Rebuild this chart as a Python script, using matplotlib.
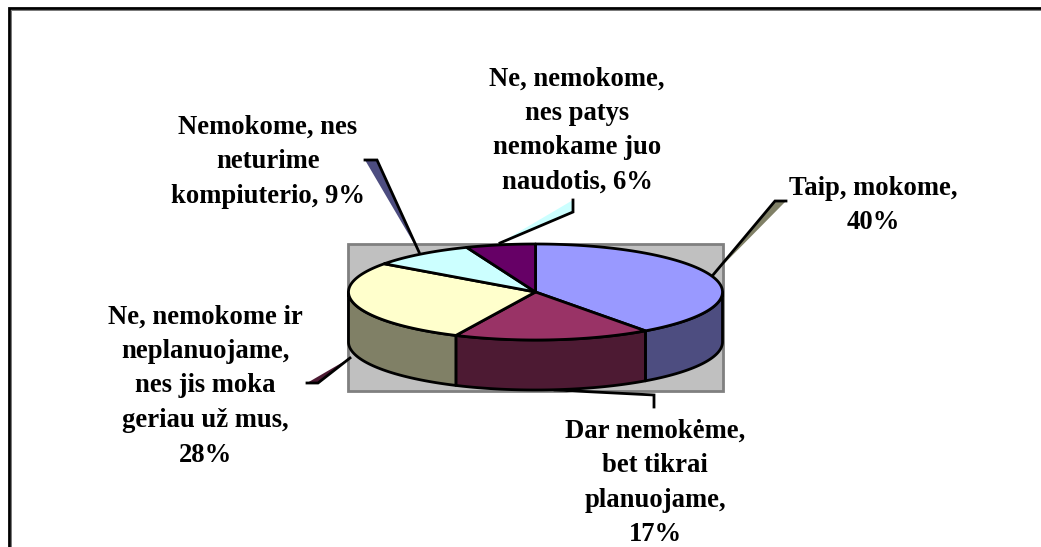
import numpy as np
import matplotlib
matplotlib.use("Agg")
import matplotlib.pyplot as plt
from matplotlib.patches import Polygon, Rectangle

labels = ["Taip, mokome,\n40%",
          "Dar nemokėme,\nbet tikrai\nplanuojame,\n17%",
          "Ne, nemokome ir\nneplanuojame,\nnes jis moka\ngeriau už mus,\n28%",
          "Nemokome, nes\nneturime\nkompiuterio, 9%",
          "Ne, nemokome,\nnes patys\nnemokame juo\nnaudotis, 6%"]
values = [40, 17, 28, 9, 6]
top_colors = ["#9999FF", "#993366", "#FFFFCC", "#CCFFFF", "#660066"]
side_colors = ["#4D4D80", "#4D1A33", "#808066", "#668080", "#330033"]
label_xy = [(873, 205.5), (655, 483), (205, 386), (268, 162), (577, 130.5)]
leaders = [
    ((775, 201), (786, 201), (713, 275)),
    ((654, 395), (654, 407), (555, 390)),
    ((307, 383), (318, 383), (350, 358)),
    ((365, 160), (377, 160), (419, 252)),
    ((573, 200), (573, 212), (500, 243)),
]
leader_colors = ["#808066", "#FFFFFF", "#4D1A33", "#4D4D80", "#CCFFFF"]
leader_paths = [[1, 0, 2], [2, 0, 1], [0, 1, 2], [0, 1, 2], [0, 1, 2]]
cx, cy, rx, ry, depth = 535.5, 292, 187, 48, 50

fig = plt.figure(figsize=(10.41, 5.47), dpi=100)
ax = fig.add_axes([0, 0, 1, 1])
ax.set_xlim(0, 1041)
ax.set_ylim(547, 0)
ax.axis("off")

# outer frame (open at the right and bottom, where the picture is cropped)
ax.plot([9, 9, 1041], [547, 8, 8], color="black", lw=2.0, solid_joinstyle="miter", zorder=1)
ax.plot([10.5, 10.5, 1041], [547, 9.5, 9.5], color="#777777", lw=0.7, zorder=1)

# plot area background
ax.add_patch(Rectangle((348, 243.5), 375, 147.5, fc="#C0C0C0", ec="#808080", lw=2, zorder=2))


def pt(t, dy=0.0):
    return cx + rx * np.sin(t), cy - ry * np.cos(t) + dy


edges = np.deg2rad(np.cumsum([0] + values) / sum(values) * 360)

# rim
for a, b, col in zip(edges[:-1], edges[1:], side_colors):
    lo, hi = max(a, np.pi / 2), min(b, 1.5 * np.pi)
    if hi <= lo:
        continue
    t = np.linspace(lo, hi, 80)
    xt, yt = pt(t)
    xb, yb = pt(t, depth)
    poly = np.column_stack([np.r_[xt, xb[::-1]], np.r_[yt, yb[::-1]]])
    ax.add_patch(Polygon(poly, closed=True, fc=col, ec="black", lw=2, joinstyle="round", zorder=4))

# top face
for a, b, col in zip(edges[:-1], edges[1:], top_colors):
    t = np.linspace(a, b, 120)
    xt, yt = pt(t)
    poly = np.column_stack([np.r_[cx, xt], np.r_[cy, yt]])
    ax.add_patch(Polygon(poly, closed=True, fc=col, ec="black", lw=2, joinstyle="round", zorder=5))

# leader lines: tinted sliver + black stroke
for pts, col, order in zip(leaders, leader_colors, leader_paths):
    ax.add_patch(Polygon(pts, closed=True, fc=col, ec="none", zorder=3))
    xs = [pts[i][0] for i in order]
    ys = [pts[i][1] for i in order]
    ax.plot(xs, ys, color="black", lw=2.0, solid_joinstyle="miter", zorder=3.5)

for (x, y), s in zip(label_xy, labels):
    ax.text(x, y, s, ha="center", va="center", family="Liberation Serif",
            fontweight="bold", fontsize=19.2, color="black", linespacing=1.5, zorder=6)

fig.savefig("out.png", dpi=100, facecolor="white")
